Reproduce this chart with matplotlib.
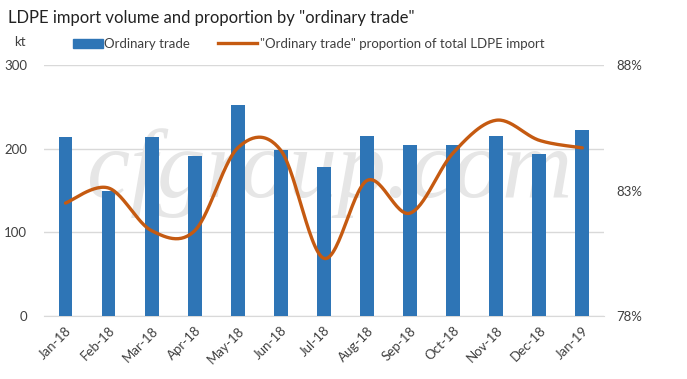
import numpy as np
import matplotlib
matplotlib.use("Agg")
import matplotlib.pyplot as plt
from matplotlib.lines import Line2D
from matplotlib.patches import Patch

months = ["Jan-18", "Feb-18", "Mar-18", "Apr-18", "May-18", "Jun-18", "Jul-18",
          "Aug-18", "Sep-18", "Oct-18", "Nov-18", "Dec-18", "Jan-19"]
volume_kt = [214, 149, 214, 191, 252, 198, 178, 215, 205, 204, 215, 194, 222]
proportion_pct = [82.5, 83.1, 81.4, 81.4, 84.7, 84.6, 80.3, 83.4, 82.1, 84.5, 85.8, 85.0, 84.7]
left_ticks = [0, 100, 200, 300]
right_ticks = [78, 83, 88]

plt.rcParams['font.family'] = ['Lato', 'DejaVu Sans']
text_col = '#404040'

fig = plt.figure(figsize=(6.87, 3.79), dpi=100)
ax = fig.add_axes([0.064, 0.166, 0.815, 0.6625])
x = np.arange(len(months))
ax.bar(x, volume_kt, width=0.32, color='#2E75B6', zorder=3)
ax.set_ylim(0, 300)
ax.set_xlim(-0.5, len(months) - 0.5)
ax.set_yticks(left_ticks)
ax.grid(axis='y', color='#d9d9d9', linewidth=1, zorder=0)
ax.set_axisbelow(True)
for s in ['top', 'right', 'left']:
    ax.spines[s].set_visible(False)
ax.spines['bottom'].set_color('#d9d9d9')
ax.tick_params(axis='both', length=0, colors=text_col, labelsize=9.5)
ax.tick_params(axis='y', pad=12)
ax.set_xticks(x)
ax.set_xticklabels(months, rotation=45, ha='right', rotation_mode='anchor')
ax.tick_params(axis='x', pad=6)

# watermark behind bars
ax.text(0.51, 0.57, "cfgroup.com", fontsize=70, family='Liberation Serif', style='italic',
        color='#e6e6e6', ha='center', va='center', zorder=1, transform=ax.transAxes)

# Excel-like smoothed line (Catmull-Rom -> Bezier)
ax2 = ax.twinx()
ax2.set_ylim(78, 88)
ax2.set_yticks(right_ticks)
ax2.set_yticklabels([f"{t}%" for t in right_ticks])
ax2.tick_params(axis='y', length=0, colors=text_col, labelsize=9.5, pad=9)
for s in ['top', 'right', 'left', 'bottom']:
    ax2.spines[s].set_visible(False)

px = x.astype(float)
py = np.array(proportion_pct, dtype=float)
n = len(px)
xs, ys = [], []
t = np.linspace(0, 1, 30)
for i in range(n - 1):
    p0 = np.array([px[max(i - 1, 0)], py[max(i - 1, 0)]])
    p1 = np.array([px[i], py[i]])
    p2 = np.array([px[i + 1], py[i + 1]])
    p3 = np.array([px[min(i + 2, n - 1)], py[min(i + 2, n - 1)]])
    c1 = p1 + (p2 - p0) / 6.0
    c2 = p2 - (p3 - p1) / 6.0
    b = ((1 - t) ** 3)[:, None] * p1 + (3 * (1 - t) ** 2 * t)[:, None] * c1 + \
        (3 * (1 - t) * t ** 2)[:, None] * c2 + (t ** 3)[:, None] * p2
    xs.extend(b[:, 0]); ys.extend(b[:, 1])
ax2.plot(xs, ys, color='#C55A11', linewidth=2.4, solid_capstyle='round', zorder=3)

fig.text(0.012, 0.952, 'LDPE import volume and proportion by "ordinary trade"',
         fontsize=12, color='#222222', ha='left', va='center')
fig.text(0.020, 0.888, 'kt', fontsize=9.5, color=text_col, ha='left', va='center')

leg1 = fig.legend([Patch(color='#2E75B6')], ['Ordinary trade'],
                  loc='center left', bbox_to_anchor=(0.106, 0.884), frameon=False,
                  fontsize=9.5, handlelength=2.3, handleheight=0.6,
                  handletextpad=0.1, labelcolor=text_col, borderpad=0, borderaxespad=0)
leg2 = fig.legend([Line2D([0], [0], color='#C55A11', linewidth=2.4)],
                  ['"Ordinary trade" proportion of total LDPE import'],
                  loc='center left', bbox_to_anchor=(0.317, 0.884), frameon=False,
                  fontsize=9.5, handlelength=3.0, handletextpad=0.2,
                  labelcolor=text_col, borderpad=0, borderaxespad=0)

fig.savefig('out.png', dpi=100)
